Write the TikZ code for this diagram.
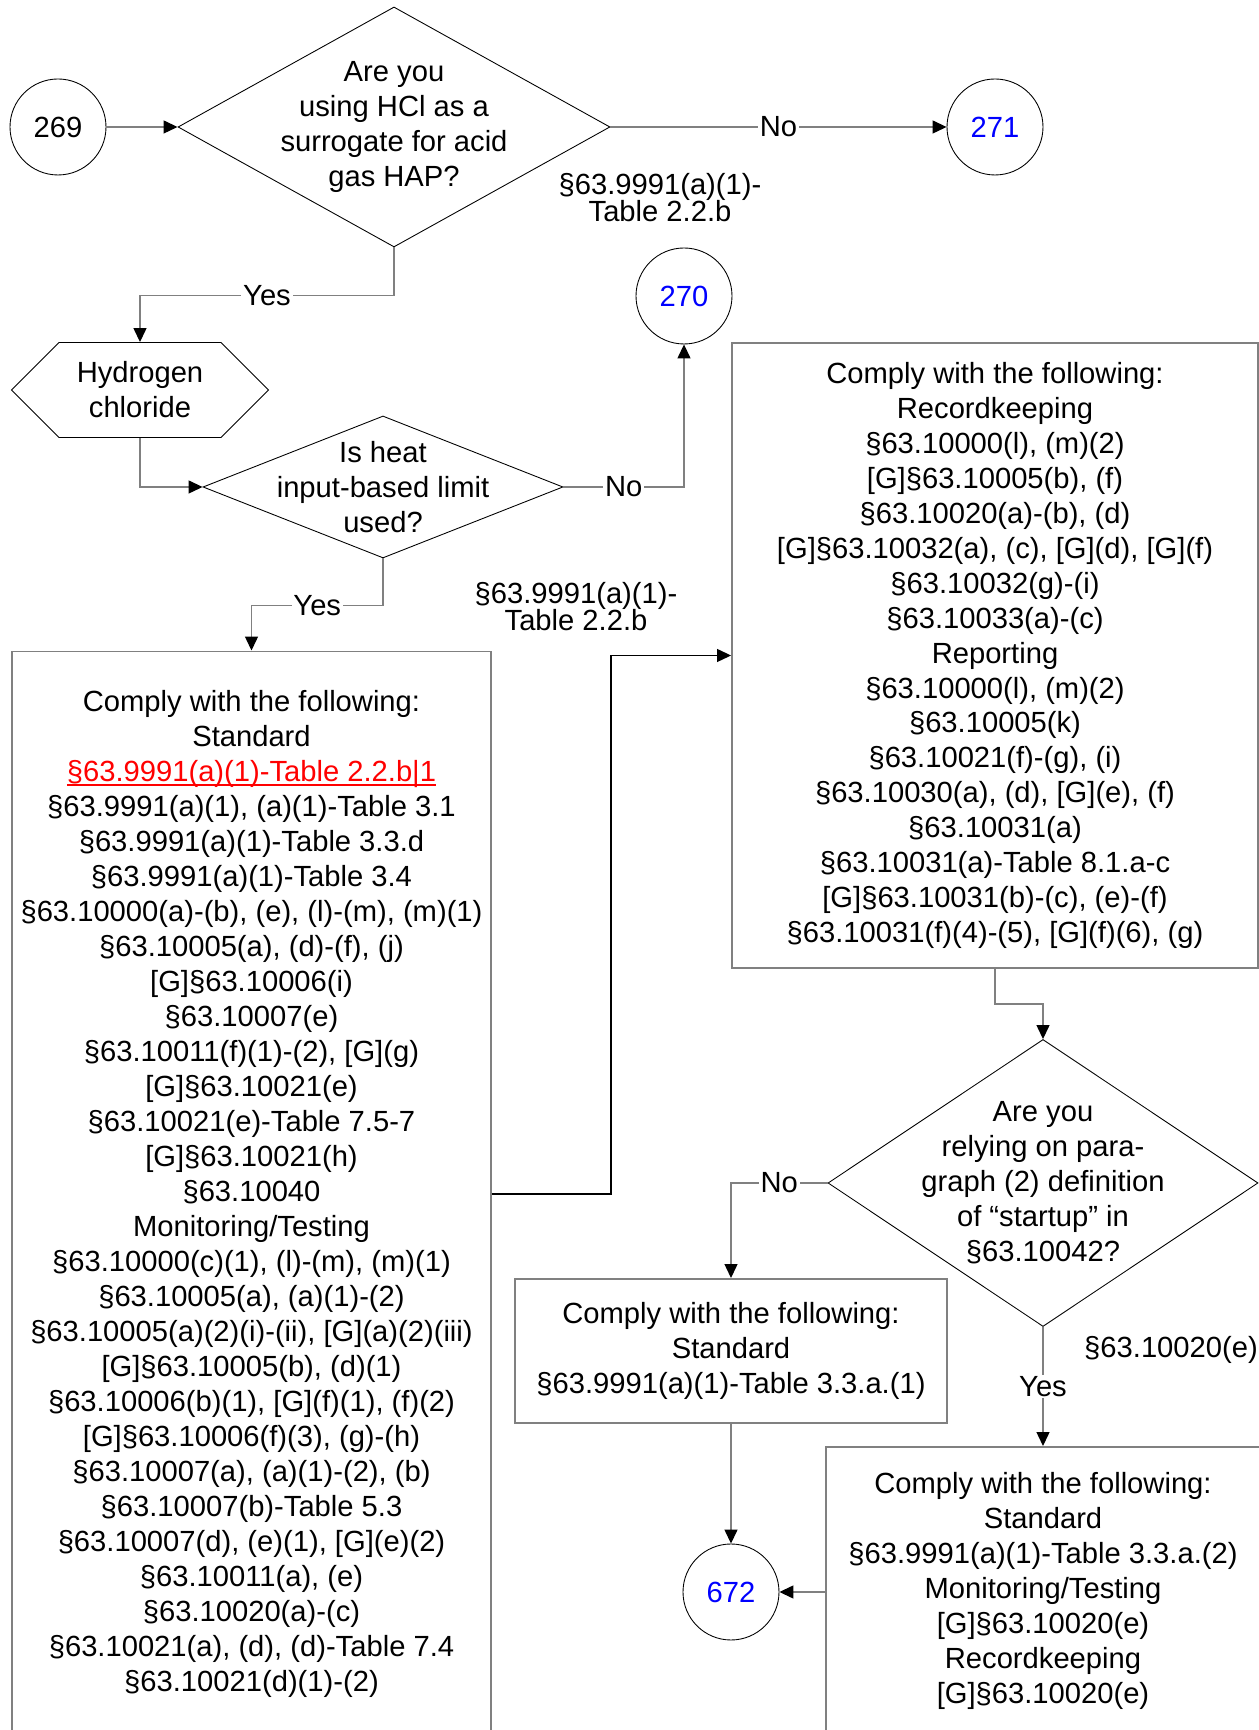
\documentclass[tikz,border=0pt]{standalone}
\usepackage{fontspec}
\setmainfont{Liberation Sans}
\usetikzlibrary{arrows.meta,positioning,shapes.geometric,shapes.symbols}
\definecolor{LineGray}{RGB}{128,128,128}
\definecolor{RefBlue}{RGB}{0,0,255}
\definecolor{CiteRed}{RGB}{255,0,0}
\newcommand{\redcite}[1]{\textcolor{CiteRed}{\rlap{\rule[-2.2pt]{\widthof{#1}}{.8pt}}#1}}
\usepackage{calc}
\tikzset{
  >={Triangle[length=.28cm,width=.26cm,color=black]},
  txt/.style={font=\fontsize{16.6}{19.9}\selectfont,align=center,text=black},
  box/.style={txt,draw=LineGray,line width=1.1pt,inner sep=0pt},
  decision/.style={diamond,draw=black,line width=.5pt,inner sep=0pt},
  conn/.style={circle,draw=black,line width=.5pt,txt,minimum size=1.92cm,inner sep=0pt},
  offpage/.style={conn,text=RefBlue},
  hexa/.style={signal,signal to=east and west,signal pointer angle=90,draw=black,line width=.5pt,txt,minimum width=5.14cm,minimum height=1.9cm,inner sep=0pt},
  lbl/.style={txt,fill=white,inner sep=1pt},
  ref/.style={font=\fontsize{16.6}{15.6}\selectfont,align=center},
  flow/.style={->,draw=LineGray,line width=.75pt},
  flowk/.style={flow,draw=black}
}
\begin{document}
\begin{tikzpicture}[x=1cm,y=1cm]
  \useasboundingbox[fill=white] (0,0) rectangle (25.18,34.6);
  % top row
  \node[conn] (c269) at (1.16,32.06) {269};
  \node[decision,minimum width=8.64cm,minimum height=4.8cm] (q1) at (7.88,32.06) {};
  \node[txt] (q1t) at (q1) {Are you\\using HCl as a\\surrogate for acid\\gas HAP?};
  \node[offpage] (c271) at (19.9,32.06) {271};
  \node[ref] (tbl1) at (13.2,30.65) {§63.9991(a)(1)-\\Table 2.2.b};
  \node[offpage] (c270) at (13.68,28.68) {270};
  \node[hexa] (hcl) at (2.8,26.8) {Hydrogen\\chloride};
  \node[decision,minimum width=7.2cm,minimum height=2.84cm] (q2) at (7.66,24.86) {};
  \node[txt] (q2t) at (q2) {Is heat\\input-based limit\\used?};
  \node[ref] (tbl2) at (11.52,22.47) {§63.9991(a)(1)-\\Table 2.2.b};
  % requirement boxes
  \node[box,minimum width=9.58cm,minimum height=21.7cm] (std) at (5.03,10.72) {Comply with the following:\\Standard\\\redcite{§63.9991(a)(1)-Table 2.2.b|1}\\§63.9991(a)(1), (a)(1)-Table 3.1\\§63.9991(a)(1)-Table 3.3.d\\§63.9991(a)(1)-Table 3.4\\§63.10000(a)-(b), (e), (l)-(m), (m)(1)\\§63.10005(a), (d)-(f), (j)\\{[G]}§63.10006(i)\\§63.10007(e)\\§63.10011(f)(1)-(2), [G](g)\\{[G]}§63.10021(e)\\§63.10021(e)-Table 7.5-7\\{[G]}§63.10021(h)\\§63.10040\\Monitoring/Testing\\§63.10000(c)(1), (l)-(m), (m)(1)\\§63.10005(a), (a)(1)-(2)\\§63.10005(a)(2)(i)-(ii), [G](a)(2)(iii)\\{[G]}§63.10005(b), (d)(1)\\§63.10006(b)(1), [G](f)(1), (f)(2)\\{[G]}§63.10006(f)(3), (g)-(h)\\§63.10007(a), (a)(1)-(2), (b)\\§63.10007(b)-Table 5.3\\§63.10007(d), (e)(1), [G](e)(2)\\§63.10011(a), (e)\\§63.10020(a)-(c)\\§63.10021(a), (d), (d)-Table 7.4\\§63.10021(d)(1)-(2)};
  \node[box,minimum width=10.52cm,minimum height=12.5cm] (rk) at (19.9,21.49) {Comply with the following:\\Recordkeeping\\§63.10000(l), (m)(2)\\{[G]}§63.10005(b), (f)\\§63.10020(a)-(b), (d)\\{[G]}§63.10032(a), (c), [G](d), [G](f)\\§63.10032(g)-(i)\\§63.10033(a)-(c)\\Reporting\\§63.10000(l), (m)(2)\\§63.10005(k)\\§63.10021(f)-(g), (i)\\§63.10030(a), (d), [G](e), (f)\\§63.10031(a)\\§63.10031(a)-Table 8.1.a-c\\{[G]}§63.10031(b)-(c), (e)-(f)\\§63.10031(f)(4)-(5), [G](f)(6), (g)};
  \node[decision,minimum width=8.6cm,minimum height=5.74cm] (q3) at (20.86,10.94) {};
  \node[txt] (q3t) at (q3) {Are you\\relying on para-\\graph (2) definition\\of “startup” in\\§63.10042?};
  \node[box,minimum width=8.64cm,minimum height=2.88cm] (mid) at (14.62,7.58) {Comply with the following:\\Standard\\§63.9991(a)(1)-Table 3.3.a.(1)};
  \node[ref] (cite) at (23.42,7.6) {§63.10020(e)};
  \node[box,minimum width=8.68cm,minimum height=5.76cm] (lo) at (20.86,2.78) {Comply with the following:\\Standard\\§63.9991(a)(1)-Table 3.3.a.(2)\\Monitoring/Testing\\{[G]}§63.10020(e)\\Recordkeeping\\{[G]}§63.10020(e)};
  \node[offpage] (c672) at (14.62,2.76) {672};
  % connectors
  \draw[flow] (c269) -- (q1);
  \draw[flow] (q1) -- node[lbl] {No} (c271);
  \draw[flow] (q1.south) -- ++(0,-.96) -| node[lbl,pos=.25] {Yes} (hcl.north);
  \draw[flow] (hcl.south) |- (q2.west);
  \draw[flow] (q2.east) -| node[lbl,pos=.25] {No} (c270.south);
  \draw[flow] (q2.south) -- ++(0,-.94) -| node[lbl,pos=.25] {Yes} (std.north);
  \draw[flowk] (std.east) -- ++(2.38,0) |- (rk.west);
  \draw[flow] (rk.south) -- ++(0,-.7) -| (q3.north);
  \draw[flow] (q3.west) -| node[lbl,pos=.25] {No} (mid.north);
  \draw[flow] (q3.south) -- node[lbl] {Yes} (lo.north);
  \draw[flow] (mid) -- (c672);
  \draw[flow] (lo.west |- c672) -- (c672);
\end{tikzpicture}
\end{document}
